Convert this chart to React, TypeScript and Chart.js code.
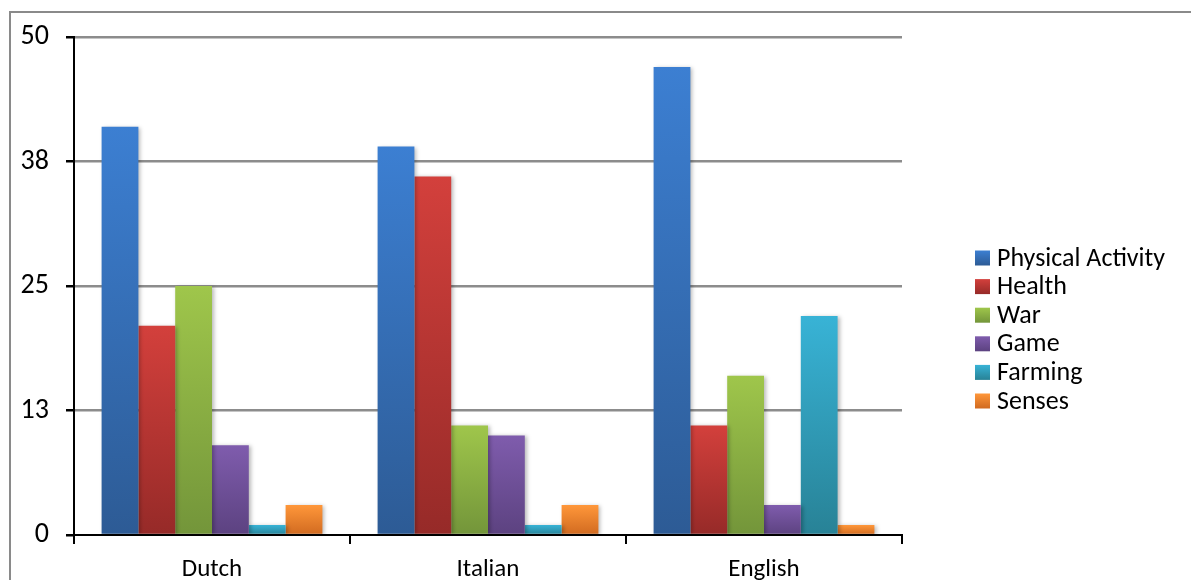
import React, { useEffect, useRef } from "react";
import { Chart, registerables } from "chart.js";

Chart.register(...registerables);

const categories = ["Dutch", "Italian", "English"];
const seriesNames = ["Physical Activity", "Health", "War", "Game", "Farming", "Senses"];
const physicalActivity = [41, 39, 47];
const health = [21, 36, 11];
const war = [25, 11, 16];
const game = [9, 10, 3];
const farming = [1, 1, 22];
const senses = [3, 3, 1];
const yTicks = [0, 12.5, 25, 37.5, 50];

const seriesValues = [physicalActivity, health, war, game, farming, senses];
const topColors = ["#3C7FD2", "#D3403C", "#9FC64B", "#7F5CAD", "#38B3D6", "#FF973A"];
const bottomColors = ["#2D5B95", "#962A28", "#73953A", "#5C4280", "#288296", "#D06A20"];

const FONT = "Carlito, Lato, 'Open Sans', sans-serif";

const gradientFill = (top: string, bottom: string) => (ctx: any) => {
  const chart = ctx.chart;
  if (!chart.chartArea || ctx.type !== "data") return top;
  const ys = chart.scales.y;
  if (!ys) return top;
  const y0 = ys.getPixelForValue(0);
  const y1 = ys.getPixelForValue(ctx.raw);
  if (!isFinite(y0) || !isFinite(y1) || Math.abs(y0 - y1) < 0.5) return top;
  const g = chart.ctx.createLinearGradient(0, y1, 0, y0);
  g.addColorStop(0, top);
  g.addColorStop(1, bottom);
  return g;
};

const framePlugin = {
  id: "frame",
  beforeDraw(chart: any) {
    const c = chart.ctx;
    c.save();
    c.fillStyle = "#ffffff";
    c.fillRect(0, 0, chart.width, chart.height);
    c.strokeStyle = "#8a8a8a";
    c.lineWidth = 2;
    c.strokeRect(10, 12, chart.width + 50, chart.height + 50);
    c.restore();
  },
};

const shadowPlugin = {
  id: "barShadow",
  beforeDatasetsDraw(chart: any) {
    const c = chart.ctx;
    c.save();
    c.shadowColor = "rgba(0,0,0,0.28)";
    c.shadowBlur = 4;
    c.shadowOffsetX = 2;
    c.shadowOffsetY = 1;
  },
  afterDatasetsDraw(chart: any) {
    chart.ctx.restore();
  },
};

const legendPlugin = {
  id: "customLegend",
  afterDraw(chart: any) {
    const c = chart.ctx;
    const x0 = 975;
    const yStart = 258;
    const step = 28.6;
    c.save();
    c.font = `26px ${FONT}`;
    c.textBaseline = "middle";
    c.textAlign = "left";
    chart.data.datasets.forEach((ds: any, i: number) => {
      const yc = yStart + i * step;
      const g = c.createLinearGradient(0, yc - 7.5, 0, yc + 7.5);
      g.addColorStop(0, topColors[i]);
      g.addColorStop(1, bottomColors[i]);
      c.fillStyle = g;
      c.fillRect(x0, yc - 7.5, 15, 15);
      c.fillStyle = "#000000";
      c.fillText(ds.label, x0 + 22, yc + 1);
    });
    c.restore();
  },
};

export default function App() {
  const canvasRef = useRef<HTMLCanvasElement | null>(null);

  useEffect(() => {
    if (!canvasRef.current) return;
    const chart = new Chart(canvasRef.current, {
      type: "bar",
      data: {
        labels: categories,
        datasets: seriesNames.map((name, i) => ({
          label: name,
          data: seriesValues[i],
          backgroundColor: gradientFill(topColors[i], bottomColors[i]),
          borderWidth: 0,
          categoryPercentage: 0.8,
          barPercentage: 1.0,
        })),
      },
      options: {
        animation: false,
        responsive: false,
        maintainAspectRatio: false,
        devicePixelRatio: 1,
        layout: { padding: { left: 0, top: 37, right: 289, bottom: 0 } },
        plugins: {
          legend: { display: false },
          tooltip: { enabled: false },
          title: { display: false },
        },
        scales: {
          x: {
            grid: {
              display: true,
              drawOnChartArea: false,
              drawTicks: true,
              offset: true,
              tickLength: 9,
              color: "#000000",
              lineWidth: 2,
            },
            border: { display: true, color: "#000000", width: 2 },
            ticks: {
              color: "#000000",
              font: { family: FONT, size: 25 },
              padding: 11,
            },
            afterFit(scale: any) {
              scale.height = 45;
            },
          },
          y: {
            min: 0,
            max: 50,
            afterBuildTicks(scale: any) {
              scale.ticks = yTicks.map((v) => ({ value: v }));
            },
            grid: {
              color: (ctx: any) => (ctx.tick && ctx.tick.value === 0 ? "rgba(0,0,0,0)" : "#8c8c8c"),
              lineWidth: 2.5,
              tickColor: "#000000",
              tickLength: 8,
              drawTicks: true,
            },
            border: { display: true, color: "#000000", width: 2 },
            ticks: {
              color: "#000000",
              font: { family: FONT, size: 28 },
              padding: 17,
              callback: (v: any) => String(Math.round(Number(v))),
            },
            afterFit(scale: any) {
              scale.width = 74;
            },
          },
        },
      },
      plugins: [framePlugin, shadowPlugin, legendPlugin],
    });
    return () => chart.destroy();
  }, []);

  return (
    <div style={{ position: "fixed", left: 0, top: 0, width: 1191, height: 580, overflow: "hidden" }}>
      <canvas ref={canvasRef} width={1191} height={580} style={{ display: "block" }} />
    </div>
  );
}
